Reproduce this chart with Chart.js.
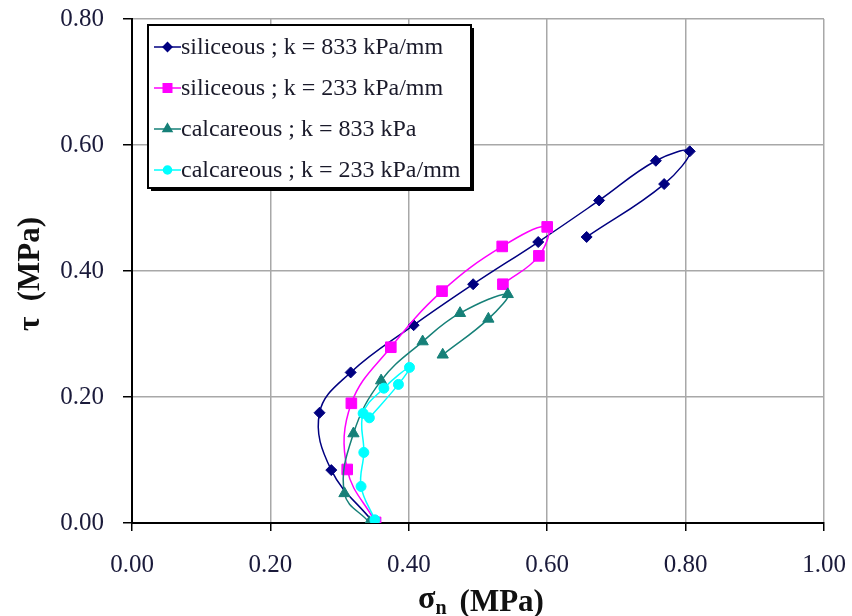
<!DOCTYPE html>
<html>
<head>
<meta charset="utf-8">
<script src="https://cdn.jsdelivr.net/npm/chart.js@4/dist/chart.umd.min.js"></script>
<style>
html,body{margin:0;padding:0;background:#fff;}
#wrap{width:852px;height:616px;position:relative;}
</style>
</head>
<body>
<div id="wrap"><canvas id="c" width="852" height="616"></canvas></div>
<script>
// ---- data ----
const seriesLabels = [
  'siliceous ; k = 833 kPa/mm',
  'siliceous ; k = 233 kPa/mm',
  'calcareous ; k = 833 kPa',
  'calcareous ; k = 233 kPa/mm'
];
const silic833Sigma = [0.348, 0.288, 0.271, 0.316, 0.407, 0.493, 0.587, 0.675, 0.757, 0.806, 0.769, 0.657];
const silic833Tau   = [0.002, 0.084, 0.175, 0.239, 0.314, 0.379, 0.446, 0.512, 0.575, 0.590, 0.538, 0.454];
const silic233Sigma = [0.352, 0.311, 0.317, 0.374, 0.448, 0.535, 0.600, 0.588, 0.536];
const silic233Tau   = [0.001, 0.085, 0.190, 0.279, 0.368, 0.439, 0.470, 0.424, 0.379];
const calc833Sigma  = [0.343, 0.307, 0.320, 0.360, 0.420, 0.474, 0.543, 0.515, 0.449];
const calc833Tau    = [0.001, 0.047, 0.142, 0.226, 0.288, 0.333, 0.363, 0.324, 0.267];
const calc233Sigma  = [0.351, 0.331, 0.335, 0.334, 0.364, 0.401, 0.385, 0.343];
const calc233Tau    = [0.005, 0.058, 0.112, 0.174, 0.214, 0.247, 0.220, 0.167];
const xTickValues = [0, 0.2, 0.4, 0.6, 0.8, 1.0];
const xTickLabels = ['0.00', '0.20', '0.40', '0.60', '0.80', '1.00'];
const yTickValues = [0, 0.2, 0.4, 0.6, 0.8];
const yTickLabels = ['0.00', '0.20', '0.40', '0.60', '0.80'];

function pts(xs, ys) { return xs.map((x, i) => ({x: x, y: ys[i]})); }

const colors = ['#000080', '#ff00ff', '#168078', '#00ffff'];
const styles = ['rectRot', 'rect', 'triangle', 'circle'];
const radii  = [5.5, 7.5, 6.5, 5];
const xs = [silic833Sigma, silic233Sigma, calc833Sigma, calc233Sigma];
const ys = [silic833Tau, silic233Tau, calc833Tau, calc233Tau];

const datasets = seriesLabels.map((lab, i) => ({
  label: lab,
  data: pts(xs[i], ys[i]),
  showLine: true,
  tension: 0.4,
  borderColor: colors[i],
  backgroundColor: colors[i],
  borderWidth: 1.5,
  pointStyle: styles[i],
  pointRadius: radii[i],
  pointBorderWidth: 1,
  pointBorderColor: colors[i],
  pointBackgroundColor: colors[i],
  order: 4 - i
}));

const SERIF = '"Liberation Serif", "Times New Roman", serif';
const tickColor = '#1a1a3a';

const extras = {
  id: 'extras',
  afterDraw(chart) {
    const ctx = chart.ctx;
    const ca = chart.chartArea;
    // legend box
    const L = ca.left + 16, T = ca.top + 6, W = 323, H = 163;
    ctx.save();
    ctx.fillStyle = '#000';
    ctx.fillRect(L + 3, T + 3, W, H);
    ctx.fillStyle = '#fff';
    ctx.fillRect(L, T, W, H);
    ctx.strokeStyle = '#000';
    ctx.lineWidth = 2;
    ctx.strokeRect(L, T, W, H);
    chart.data.datasets.forEach((ds, i) => {
      const cy = T + 22 + i * 41;
      ctx.strokeStyle = ds.borderColor;
      ctx.lineWidth = 1.5;
      ctx.beginPath();
      ctx.moveTo(L + 6, cy);
      ctx.lineTo(L + 33, cy);
      ctx.stroke();
      ctx.fillStyle = ds.backgroundColor;
      Chart.helpers.drawPoint(ctx, {pointStyle: ds.pointStyle, radius: ds.pointRadius * 0.8, borderWidth: 1, rotation: 0}, L + 19.5, cy);
      ctx.fill();
      ctx.fillStyle = '#1a1a2a';
      ctx.font = '24px ' + SERIF;
      ctx.textBaseline = 'middle';
      ctx.textAlign = 'left';
      ctx.fillText(ds.label, L + 33, cy + 1);
    });
    // x axis title: sigma_n (MPa)
    ctx.fillStyle = '#111';
    ctx.textBaseline = 'alphabetic';
    ctx.textAlign = 'left';
    const cx = (ca.left + ca.right) / 2;
    ctx.font = 'bold 32px ' + SERIF;
    const wS = ctx.measureText('σ').width;
    ctx.font = 'bold 20px ' + SERIF;
    const wN = ctx.measureText('n').width;
    ctx.font = 'bold 31px ' + SERIF;
    const wM = ctx.measureText('(MPa)').width;
    const gap = 13;
    let x0 = cx - (wS + wN + gap + wM) / 2 + 3;
    const base = 611;
    ctx.font = 'bold 32px ' + SERIF;
    ctx.fillText('σ', x0, base - 3);
    ctx.font = 'bold 20px ' + SERIF;
    ctx.fillText('n', x0 + wS, base + 3);
    ctx.font = 'bold 31px ' + SERIF;
    ctx.fillText('(MPa)', x0 + wS + wN + gap, base);
    // y axis title: tau (MPa)
    ctx.translate(31, (ca.top + ca.bottom) / 2 + 3);
    ctx.rotate(-Math.PI / 2);
    ctx.textAlign = 'center';
    ctx.textBaseline = 'middle';
    ctx.font = 'bold 31px ' + SERIF;
    ctx.fillText('τ  (MPa)', 0, 0);
    ctx.restore();
  }
};

new Chart(document.getElementById('c'), {
  type: 'scatter',
  data: {datasets: datasets},
  plugins: [extras],
  options: {
    responsive: false,
    animation: false,
    devicePixelRatio: 1,
    layout: {padding: {left: 0, right: 28, top: 19, bottom: 0}},
    plugins: {legend: {display: false}, tooltip: {enabled: false}},
    scales: {
      x: {
        type: 'linear', min: 0, max: 1,
        afterBuildTicks: s => { s.ticks = xTickValues.map(v => ({value: v})); },
        afterFit: s => { s.height = 93; s.paddingLeft = 0; s.paddingRight = 0; },
        ticks: {
          callback: (v, i) => xTickLabels[i],
          font: {family: SERIF, size: 25},
          color: tickColor,
          padding: 19,
          maxRotation: 0
        },
        grid: {color: '#a8a8a8', lineWidth: 1.5, tickColor: '#000', tickLength: 8, tickWidth: 1.5},
        border: {color: '#000', width: 2}
      },
      y: {
        type: 'linear', min: 0, max: 0.8,
        afterBuildTicks: s => { s.ticks = yTickValues.map(v => ({value: v})); },
        afterFit: s => { s.width = 132; s.paddingTop = 0; s.paddingBottom = 0; },
        ticks: {
          callback: (v, i) => yTickLabels[i],
          font: {family: SERIF, size: 25},
          color: tickColor,
          padding: 19
        },
        grid: {color: '#a8a8a8', lineWidth: 1.5, tickColor: '#000', tickLength: 9, tickWidth: 1.5},
        border: {color: '#000', width: 2}
      }
    }
  }
});
</script>
</body>
</html>
